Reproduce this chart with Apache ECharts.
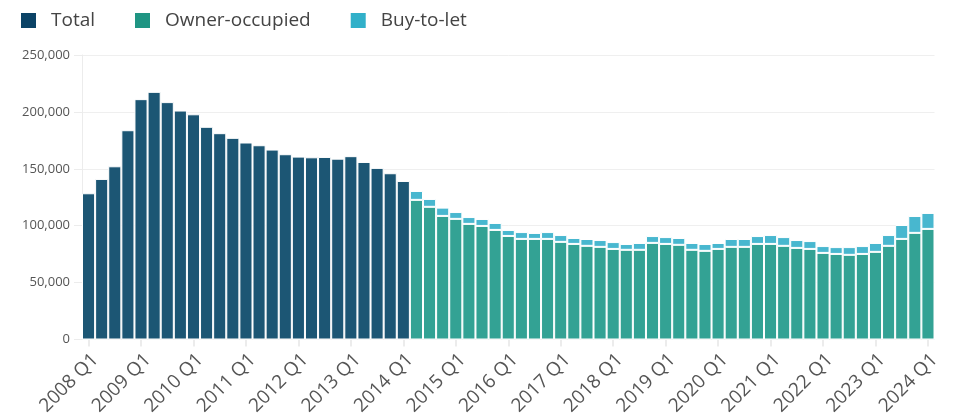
<!DOCTYPE html>
<html>
<head>
<meta charset="utf-8">
<script src="https://cdn.jsdelivr.net/npm/echarts@6/dist/echarts.min.js"></script>
<style>html,body{margin:0;padding:0;background:#fff}#c{width:953px;height:416px}</style>
</head>
<body>
<div id="c"></div>
<script>
const categories = [
 '2008 Q1','2008 Q2','2008 Q3','2008 Q4','2009 Q1','2009 Q2','2009 Q3','2009 Q4',
 '2010 Q1','2010 Q2','2010 Q3','2010 Q4','2011 Q1','2011 Q2','2011 Q3','2011 Q4',
 '2012 Q1','2012 Q2','2012 Q3','2012 Q4','2013 Q1','2013 Q2','2013 Q3','2013 Q4',
 '2014 Q1','2014 Q2','2014 Q3','2014 Q4','2015 Q1','2015 Q2','2015 Q3','2015 Q4',
 '2016 Q1','2016 Q2','2016 Q3','2016 Q4','2017 Q1','2017 Q2','2017 Q3','2017 Q4',
 '2018 Q1','2018 Q2','2018 Q3','2018 Q4','2019 Q1','2019 Q2','2019 Q3','2019 Q4',
 '2020 Q1','2020 Q2','2020 Q3','2020 Q4','2021 Q1','2021 Q2','2021 Q3','2021 Q4',
 '2022 Q1','2022 Q2','2022 Q3','2022 Q4','2023 Q1','2023 Q2','2023 Q3','2023 Q4',
 '2024 Q1'
];
// Total (2008 Q1 - 2014 Q1)
const totalValues = [
 128500,141100,152200,183900,211200,217600,208600,201200,197900,186900,181300,177200,
 173100,170700,166900,162800,160700,160100,160400,158900,161100,156000,150800,146100,
 139300
];
// Owner-occupied (2014 Q2 - 2024 Q1)
const ownerValues = [
 122700,116600,108600,106000,101600,99800,96300,91000,88400,88400,88400,85800,
 84000,82300,81400,79600,78800,78800,84900,84000,83200,78800,77900,79600,
 81400,81400,84000,84000,82300,80500,79600,76100,75200,74400,75200,77000,
 82300,88400,93700,97200
];
// Buy-to-let (2014 Q2 - 2024 Q1)
const btlValues = [
 7800,6900,7300,6000,6000,6100,6100,5200,6000,5200,6000,6000,
 5200,6000,6000,6000,5100,6000,6000,6000,6000,6000,6000,5200,
 6900,6900,6900,7800,7700,6900,6900,6000,6000,6800,6900,7800,
 9500,12200,14800,14000
];
const yTicks = {min: 0, max: 250000, interval: 50000};

const nTotal = totalValues.length;
const totalSeries = categories.map((c, i) => i < nTotal ? totalValues[i] : '-');
const ownerSeries = categories.map((c, i) => i >= nTotal ? ownerValues[i - nTotal] : '-');
const btlSeries = categories.map((c, i) => i >= nTotal ? btlValues[i - nTotal] : '-');

const font = '"Open Sans", "Noto Sans", sans-serif';
const chart = echarts.init(document.getElementById('c'), null, {renderer: 'canvas'});
chart.setOption({
  animation: false,
  textStyle: {fontFamily: font},
  legend: {
    left: 21, top: 11, padding: 0,
    itemWidth: 15, itemHeight: 15, itemGap: 40,
    icon: 'rect',
    textStyle: {fontSize: 19, color: '#444', fontFamily: font, padding: [0, 0, 0, 10]},
    data: [
      {name: 'Total', itemStyle: {color: '#0b4366', borderWidth: 0}},
      {name: 'Owner-occupied', itemStyle: {color: '#1f9583', borderWidth: 0}},
      {name: 'Buy-to-let', itemStyle: {color: '#31b0c9', borderWidth: 0}}
    ]
  },
  grid: {left: 82, right: 18.5, top: 55, bottom: 76.5, containLabel: false, outerBoundsMode: 'none'},
  xAxis: {
    type: 'category',
    data: categories,
    axisLine: {show: false},
    axisTick: {show: true, alignWithLabel: true, interval: 3, length: 7, lineStyle: {color: '#e6e6e6', width: 1.5}},
    axisLabel: {interval: 3, rotate: 45, fontSize: 19, color: '#555', margin: 10.5, verticalAlign: 'top', fontFamily: font},
    splitLine: {show: false}
  },
  yAxis: {
    type: 'value',
    min: yTicks.min, max: yTicks.max, interval: yTicks.interval,
    axisLine: {show: true, lineStyle: {color: '#ececec'}},
    axisTick: {show: true, length: 8, lineStyle: {color: '#ececec'}},
    axisLabel: {fontSize: 13, color: '#555', margin: 12, fontFamily: font},
    splitLine: {show: true, lineStyle: {color: '#efefef', width: 1}}
  },
  series: [
    {name: 'Total', type: 'bar', stack: 's', data: totalSeries, barCategoryGap: '0%',
     itemStyle: {color: '#1c5674', borderColor: '#ffffff', borderWidth: 1}},
    {name: 'Owner-occupied', type: 'bar', stack: 's', data: ownerSeries,
     itemStyle: {color: '#33a294', borderColor: '#ffffff', borderWidth: 1}},
    {name: 'Buy-to-let', type: 'bar', stack: 's', data: btlSeries,
     itemStyle: {color: '#48b7cf', borderColor: '#ffffff', borderWidth: 1}}
  ]
});
</script>
</body>
</html>
